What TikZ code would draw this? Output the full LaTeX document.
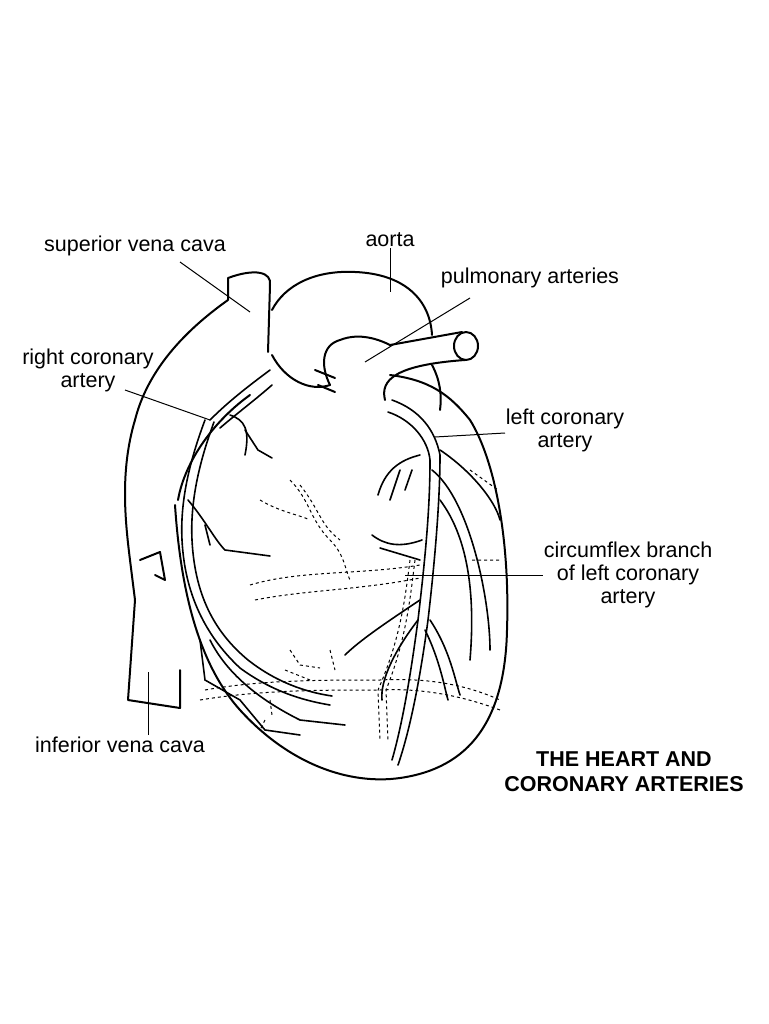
\documentclass[tikz,border=0pt]{standalone}
\usepackage{fontspec}
\setmainfont{Liberation Sans}
\begin{document}
\begin{tikzpicture}[x=1pt,y=-1pt,
  lab/.style={font=\fontsize{21.5}{23}\selectfont,align=center,inner sep=1pt},
  ttl/.style={font=\bfseries\fontsize{21.5}{25}\selectfont,align=center},
  ol/.style={line width=2pt,line join=round,line cap=round},
  vs/.style={line width=1.6pt,line cap=round},
  dsh/.style={line width=1pt,dashed},
  lead/.style={line width=1pt}]
\useasboundingbox[fill=white] (0,0) rectangle (768,1024);
% superior vena cava & right atrium outline
\draw[ol] (268,352) -- (270,285) .. controls (272,272) and (255,268) .. (228,278) -- (228,300)
  .. controls (200,320) and (150,360) .. (135,420) .. controls (120,470) and (125,520) .. (130,560)
  -- (135,600);
% IVC
\draw[ol] (135,600) -- (128,700) -- (180,708) -- (180,670);
\draw[ol] (140,560) -- (160,552) -- (165,580) -- (155,575);
% main heart outline
\draw[ol] (175,505) .. controls (180,580) and (195,660) .. (240,710)
  .. controls (290,765) and (350,785) .. (400,778)
  .. controls (470,768) and (505,720) .. (507,630)
  .. controls (510,540) and (495,460) .. (470,420)
  .. controls (450,395) and (430,380) .. (390,375);
% ventricular left wall
\draw[ol] (250,395) .. controls (215,420) and (185,460) .. (178,500);
% aorta arch
\draw[ol] (272,310) .. controls (285,285) and (315,270) .. (355,272)
  .. controls (405,274) and (430,300) .. (432,335);
\draw[ol] (432,365) .. controls (440,380) and (442,395) .. (440,410);
% aorta root
\draw[ol] (272,355) .. controls (285,380) and (310,392) .. (330,385);
% pulmonary trunk
\draw[ol] (330,385) .. controls (320,365) and (322,345) .. (340,340)
  .. controls (360,332) and (380,340) .. (390,345) -- (462,332);
\draw[ol] (385,400) .. controls (380,380) and (395,365) .. (465,360);
\draw[ol] (466,346) ellipse (12 and 14);
\draw[ol] (315,370) -- (335,378) (318,385) -- (335,392);
% right coronary artery
\draw[vs] (205,420) .. controls (190,460) and (180,500) .. (182,540)
  .. controls (185,600) and (210,640) .. (240,668) .. controls (270,690) and (300,700) .. (330,705);
\draw[vs] (214,422) .. controls (200,460) and (190,500) .. (192,540)
  .. controls (195,600) and (218,635) .. (248,660) .. controls (276,682) and (305,692) .. (332,696);
\draw[vs] (210,420) .. controls (230,400) and (250,385) .. (270,370);
\draw[vs] (220,428) .. controls (235,415) and (255,400) .. (272,385);
\draw[vs] (230,415) .. controls (245,420) and (250,430) .. (245,455);
\draw[vs] (245,430) -- (258,450) -- (272,458);
\draw[vs] (188,500) .. controls (205,520) and (215,540) .. (225,550) -- (270,556);
\draw[vs] (205,525) -- (210,545);
\draw[vs] (200,640) -- (205,680) -- (240,700) -- (265,730) -- (300,735);
\draw[vs] (210,640) .. controls (230,680) and (270,705) .. (300,720) -- (345,725);
% left coronary artery
\draw[vs] (392,400) .. controls (420,410) and (435,430) .. (440,455)
  .. controls (440,500) and (435,560) .. (428,620) .. controls (420,680) and (410,730) .. (398,765);
\draw[vs] (388,412) .. controls (412,420) and (428,440) .. (430,460)
  .. controls (430,510) and (425,560) .. (418,620) .. controls (410,680) and (402,725) .. (392,760);
\draw[vs] (440,450) .. controls (470,470) and (495,500) .. (500,520);
\draw[vs] (432,470) .. controls (470,500) and (490,600) .. (490,650);
\draw[vs] (440,500) .. controls (470,540) and (475,600) .. (470,660);
\draw[vs] (420,455) .. controls (400,460) and (385,470) .. (378,495);
\draw[vs] (400,470) -- (390,500) (412,470) -- (405,490);
\draw[vs] (422,540) .. controls (400,548) and (385,545) .. (372,535);
\draw[vs] (420,560) -- (380,548);
\draw[vs] (420,600) .. controls (390,620) and (360,640) .. (345,655);
\draw[vs] (418,620) .. controls (395,650) and (380,680) .. (382,700);
\draw[vs] (430,620) .. controls (450,650) and (455,680) .. (460,695);
\draw[vs] (425,630) .. controls (440,660) and (445,690) .. (448,700);
% dashed posterior vessels
\draw[dsh] (250,585) .. controls (300,570) and (360,575) .. (420,565);
\draw[dsh] (255,600) .. controls (305,590) and (360,590) .. (420,578);
\draw[dsh] (290,480) .. controls (310,500) and (310,520) .. (330,540) .. controls (345,555) and (345,570) .. (350,580);
\draw[dsh] (300,485) .. controls (320,510) and (320,525) .. (340,540);
\draw[dsh] (260,500) .. controls (280,512) and (300,515) .. (310,520);
\draw[dsh] (410,560) .. controls (405,600) and (400,640) .. (378,690) -- (380,740);
\draw[dsh] (415,560) .. controls (410,600) and (406,640) .. (386,690) -- (388,740);
\draw[dsh] (200,700) .. controls (260,690) and (320,690) .. (380,690) .. controls (420,688) and (460,695) .. (500,710);
\draw[dsh] (205,690) .. controls (260,680) and (320,680) .. (380,680) .. controls (420,678) and (460,682) .. (500,700);
\draw[dsh] (290,650) -- (300,665) -- (320,668) (285,670) -- (310,680) (330,650) -- (335,670);
\draw[dsh] (270,700) -- (272,715) (265,720) -- (260,730);
\draw[dsh] (470,470) -- (498,490) (472,560) -- (500,560);
% labels
\node[lab] (svc) at (135,246) {superior vena cava};
\node[lab] (ao) at (390,240) {aorta};
\node[lab] (pa) at (530,278) {pulmonary arteries};
\node[lab] (rca) at (88,370) {right coronary\\artery};
\node[lab] (lca) at (565,430) {left coronary\\artery};
\node[lab] (cx) at (628,575) {circumflex branch\\of left coronary\\artery};
\node[lab] (ivc) at (120,745) {inferior vena cava};
\node[ttl] (title) at (624,772) {THE HEART AND\\CORONARY ARTERIES};
\coordinate (svcE) at (250,312); \coordinate (aoE) at (390,292);
\coordinate (paE) at (365,362); \coordinate (rcaE) at (210,420);
\coordinate (lcaE) at (435,437); \coordinate (cxE) at (405,575);
\coordinate (ivcE) at (148,672);
\draw[lead] (180,262) -- (svcE);
\draw[lead] (ao.south) -- (aoE);
\draw[lead] (470,298) -- (paE);
\draw[lead] (125,390) -- (rcaE);
\draw[lead] (505,433) -- (lcaE);
\draw[lead] (cx.west) -- (cxE);
\draw[lead] (148,735) -- (ivcE);
\end{tikzpicture}
\end{document}
